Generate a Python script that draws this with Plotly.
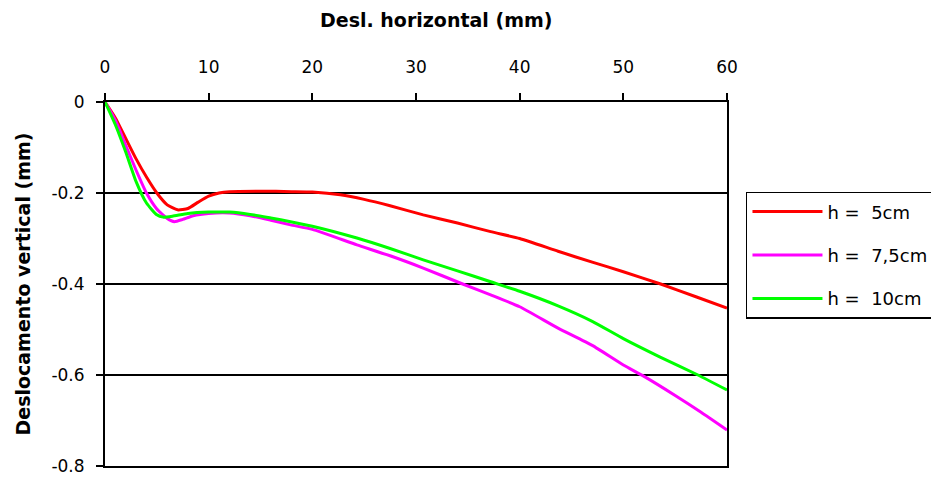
import plotly.graph_objects as go

# Data
x_h5 = [0, 1, 2, 3, 4, 5, 6, 7, 8, 9, 10, 11, 12, 15, 18, 20, 22.7, 25, 27.5, 30.7, 34, 37.2,
        40, 43.7, 47, 50, 53.6, 57, 60]
y_h5 = [0, -0.035, -0.08, -0.125, -0.165, -0.2, -0.226, -0.237, -0.234, -0.22, -0.207, -0.2, -0.197,
        -0.196, -0.197, -0.198, -0.204, -0.214, -0.228, -0.248, -0.266, -0.285,
        -0.3, -0.328, -0.352, -0.373, -0.4, -0.428, -0.453]

x_h75 = [0, 1, 2, 3, 4, 5, 6, 6.7, 7.5, 8.5, 10, 12, 14, 16, 17.9, 20, 24.3, 27.5, 30.7, 34.5, 37.2,
         40, 43.7, 47, 50, 52, 55, 57.5, 60]
y_h75 = [0, -0.04, -0.095, -0.15, -0.2, -0.235, -0.256, -0.263, -0.258, -0.25, -0.245, -0.244, -0.25,
         -0.26, -0.27, -0.28, -0.314, -0.338, -0.365, -0.4, -0.424,
         -0.45, -0.497, -0.535, -0.578, -0.603, -0.645, -0.682, -0.721]

x_h10 = [0, 1, 2, 3, 4, 5, 5.6, 6.5, 8, 10, 12, 14, 16, 17.9, 20, 24.3, 27.5, 30.7, 34, 37.2,
         40, 43.7, 47, 50, 53.5, 57.2, 60]
y_h10 = [0, -0.05, -0.11, -0.175, -0.222, -0.248, -0.253, -0.251, -0.245, -0.242, -0.242, -0.247,
         -0.255, -0.263, -0.273, -0.299, -0.322, -0.347, -0.371, -0.395,
         -0.416, -0.448, -0.482, -0.52, -0.56, -0.6, -0.633]

names = ["h =  5cm", "h =  7,5cm", "h =  10cm"]
colors = ["#FF0000", "#FF00FF", "#00FF00"]

x_ticks = [0, 10, 20, 30, 40, 50, 60]
y_ticks = [0, -0.2, -0.4, -0.6, -0.8]
y_tick_labels = ["0", "-0.2", "-0.4", "-0.6", "-0.8"]

x_title = "Desl. horizontal (mm)"
y_title = "Deslocamento vertical (mm)"

FONT = "DejaVu Sans"

fig = go.Figure()
for i, (xs, ys, n, c) in enumerate(zip([x_h5, x_h75, x_h10], [y_h5, y_h75, y_h10], names, colors)):
    fig.add_trace(go.Scatter(x=xs, y=ys, mode="lines", name=n, legendgroup=f"g{i}",
                             line=dict(color=c, width=3, shape="spline", smoothing=0.5)))

fig.add_annotation(text=f"<b>{x_title}</b>", xref="paper", yref="paper",
                   x=(436 - 105) / 622, y=1 + (102 - 20) / 364, xanchor="center", yanchor="middle",
                   showarrow=False, font=dict(family=FONT, size=19, color="black"))

fig.update_layout(
    width=931, height=477,
    margin=dict(l=105, r=204, t=102, b=11, autoexpand=False),
    paper_bgcolor="white", plot_bgcolor="white",
    font=dict(family=FONT, color="black", size=17),
    showlegend=True,
    legend=dict(x=1.0305, y=0.753, xanchor="left", yanchor="top", traceorder="grouped",
                bordercolor="black", borderwidth=1.5, bgcolor="white", itemwidth=70,
                font=dict(family=FONT, size=18), tracegroupgap=17),
    xaxis=dict(range=[0, 60], side="top", tickvals=x_ticks, ticks="outside", ticklen=7,
               tickcolor="black", tickwidth=1.5, showline=True, linecolor="black", linewidth=2,
               mirror=True, showgrid=False, zeroline=False, automargin=False,
               ticklabelstandoff=13,
               tickfont=dict(family=FONT, size=17)),
    yaxis=dict(range=[-0.8, 0], tickvals=y_ticks, ticktext=y_tick_labels, ticks="outside", ticklen=7,
               tickcolor="black", tickwidth=1.5, showline=True, linecolor="black", linewidth=2,
               mirror=True, showgrid=True, gridcolor="black", gridwidth=1.5, zeroline=False,
               automargin=False, ticklabelstandoff=8,
               title=dict(text=f"<b>{y_title}</b>", font=dict(family=FONT, size=19), standoff=16),
               tickfont=dict(family=FONT, size=17)),
)

fig.write_html("out.html")
